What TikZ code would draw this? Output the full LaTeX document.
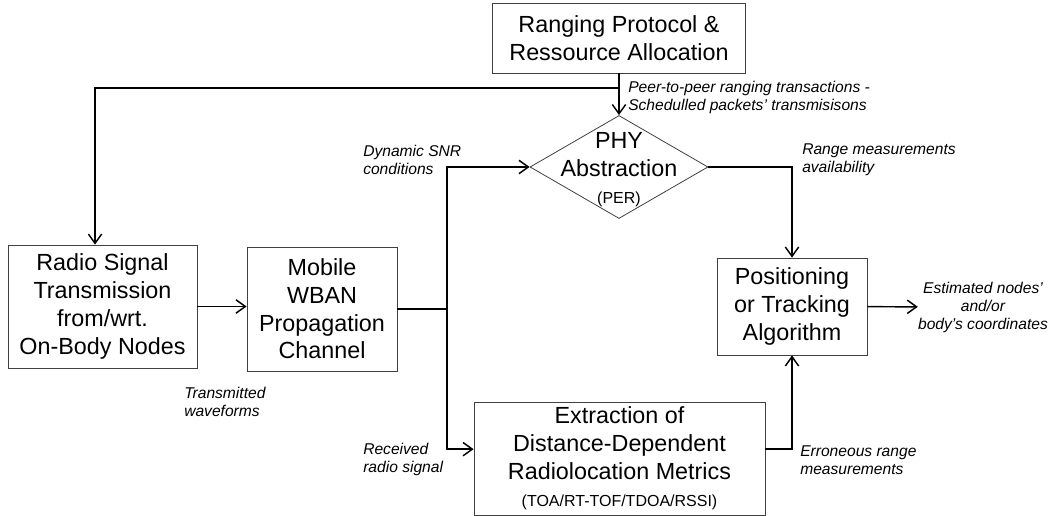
\documentclass[tikz,border=0pt]{standalone}
\usepackage{fontspec}
\setmainfont{Liberation Sans}
\usetikzlibrary{arrows.meta, shapes.geometric, positioning}

\tikzset{
  block/.style={draw=black!75, line width=0.6pt, align=center, inner sep=0pt,
    font=\fontsize{17.5}{20.8}\selectfont},
  note/.style={align=left, inner sep=0pt, font=\fontsize{11.7}{13.5}\selectfont\itshape},
  wire/.style={line width=1.1pt},
  link/.style={wire, -{Straight Barb[length=7pt,width=10pt]}},
}
\newcommand{\smalltext}{\fontsize{12}{14}\selectfont}

\begin{document}
\begin{tikzpicture}[x=0.75pt, y=-0.75pt]
\useasboundingbox (0,0) rectangle (1051,516);
\node[block, minimum width=189.75pt, minimum height=52.5pt] (rpa) at (619,38) {Ranging Protocol \&\\Ressource Allocation};
\node[block, diamond, minimum width=133.5pt, minimum height=77.25pt,
  label={[align=center, font=\fontsize{17.5}{20.8}\selectfont, yshift=-2pt]center:{PHY\\Abstraction\\{\smalltext (PER)}}}] (phy) at (619,167) {};
\node[block, minimum width=141.75pt, minimum height=92.25pt] (radio) at (102.5,306.5) {Radio Signal\\Transmission\\from/wrt.\\On-Body Nodes};
\node[block, minimum width=112.5pt, minimum height=93pt] (wban) at (322,309) {Mobile\\WBAN\\Propagation\\Channel};
\node[block, minimum width=112.5pt, minimum height=72.75pt] (pos) at (792,306.5) {Positioning\\or Tracking\\Algorithm};
\node[block, minimum width=218.25pt, minimum height=84.75pt] (ext) at (619.5,458.5) {Extraction of\\Distance-Dependent\\Radiolocation Metrics\\{\smalltext (TOA/RT-TOF/TDOA/RSSI)}};
\node[note, align=center] (est) at (983,307) {Estimated nodes'\\and/or\\body's coordinates};

\coordinate (tap) at (619,88);
\coordinate (split) at (447,309);

\draw[link] (rpa) -- (phy);
\draw[link] (tap) -| ([xshift=-5.6pt]radio.north);
\draw[link] (radio) -- (radio.east -| wban.west);
\draw[wire] (wban) -- (split);
\draw[link] (split) |- (phy);
\draw[link] (split) |- ([yshift=7pt]ext.west);
\draw[link] (phy) -| (pos);
\draw[link] ([yshift=7pt]ext.east) -| (pos);
\draw[link] (pos) -- (est);

\node[note, anchor=west] (peer) at (628,97) {Peer-to-peer ranging transactions -\\Schedulled packets' transmisisons};
\node[note, anchor=west] (snr) at (363,160) {Dynamic SNR\\conditions};
\node[note, anchor=west] (avail) at (802,160) {Range measurements\\availability};
\node[note, anchor=west] (tx) at (184,402) {Transmitted\\waveforms};
\node[note, anchor=west] (rx) at (363,459) {Received\\radio signal};
\node[note, anchor=west] (err) at (800,460) {Erroneous range\\measurements};
\end{tikzpicture}
\end{document}
